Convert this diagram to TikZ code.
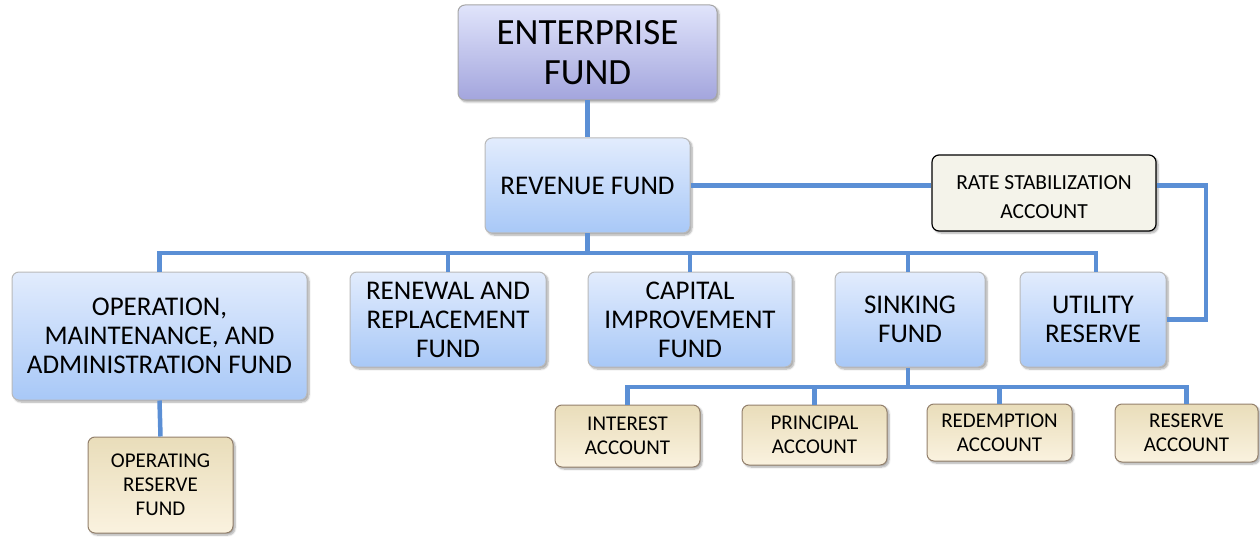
\documentclass[tikz,border=0pt]{standalone}
\usepackage{fontspec}
\setmainfont{Carlito}
\usetikzlibrary{shadows.blur}
\definecolor{conncol}{HTML}{5B8FD5}
\definecolor{enttop}{HTML}{E0E4FB}
\definecolor{entbot}{HTML}{A3A5DD}
\definecolor{bluetop}{HTML}{E2ECFD}
\definecolor{bluebot}{HTML}{A8C8F7}
\definecolor{beigetop}{HTML}{E9DDBA}
\definecolor{beigebot}{HTML}{FAF2DF}
\definecolor{ratefill}{HTML}{F4F3EA}
\tikzset{
  basebox/.style={rounded corners=7pt, align=center, inner sep=2pt,
    blur shadow={shadow xshift=2pt, shadow yshift=-2pt, shadow blur steps=6, shadow opacity=35}},
  entbox/.style={basebox, draw=gray!70, line width=1pt, top color=enttop, bottom color=entbot,
    font=\fontsize{37}{40}\selectfont},
  bluebox/.style={basebox, draw=gray!55, line width=1pt, top color=bluetop, bottom color=bluebot,
    font=\fontsize{27}{29}\selectfont},
  ratebox/.style={basebox, draw=black, line width=1.2pt, fill=ratefill,
    font=\fontsize{21.5}{29}\selectfont},
  beigebox/.style={basebox, draw=gray!70!brown, line width=1pt, top color=beigetop, bottom color=beigebot,
    font=\fontsize{21}{24}\selectfont},
  conn/.style={draw=conncol, line width=4.5pt},
}
\begin{document}
\begin{tikzpicture}[x=1pt,y=-1pt]
\useasboundingbox (0,0) rectangle (1260,537);
\coordinate (bus) at (588,253);
\coordinate (sbus) at (908,387);
\coordinate (rr) at (1206,0);
\node[entbox, minimum width=259pt, minimum height=95pt] (ent) at (587.5,52.5) {ENTERPRISE\\FUND};
\node[bluebox, minimum width=205pt, minimum height=95pt] (rev) at (587.5,185.5) {REVENUE FUND};
\node[ratebox, minimum width=224pt, minimum height=76pt] (rate) at (1044,193) {\rule{0pt}{23pt}RATE STABILIZATION\\ACCOUNT};
\node[bluebox, minimum width=295pt, minimum height=128pt] (oma) at (159.5,336) {OPERATION,\\MAINTENANCE, AND\\ADMINISTRATION FUND};
\node[bluebox, minimum width=196pt, minimum height=95pt] (ren) at (448,319.5) {RENEWAL AND\\REPLACEMENT\\FUND};
\node[bluebox, minimum width=204pt, minimum height=95pt] (cap) at (690,319.5) {CAPITAL\\IMPROVEMENT\\FUND};
\node[bluebox, minimum width=150pt, minimum height=95pt] (sink) at (910,319.5) {SINKING\\FUND};
\node[bluebox, minimum width=146pt, minimum height=95pt] (util) at (1093,319.5) {UTILITY\\RESERVE};
\node[beigebox, minimum width=145pt, minimum height=96pt] (opr) at (160.5,485) {OPERATING\\RESERVE\\FUND};
\node[beigebox, minimum width=145pt, minimum height=62pt] (int) at (627.5,436) {INTEREST\\ACCOUNT};
\node[beigebox, minimum width=145pt, minimum height=60pt] (pri) at (814.5,435) {PRINCIPAL\\ACCOUNT};
\node[beigebox, minimum width=145pt, minimum height=57pt] (red) at (999.5,432.5) {REDEMPTION\\ACCOUNT};
\node[beigebox, minimum width=143pt, minimum height=58pt] (res) at (1186.5,433) {RESERVE\\ACCOUNT};
\draw[conn] (ent.south) -- (rev.north);
\draw[conn] (rev.south) -- (rev.south |- bus);
\draw[conn] (oma.north) |- (bus) -| ([xshift=3pt]util.north);
\draw[conn] (ren.north) -- (ren.north |- bus);
\draw[conn] (cap.north) -- (cap.north |- bus);
\draw[conn] ([xshift=-2pt]sink.north) -- ([xshift=-2pt]sink.north |- bus);
\draw[conn] (rev.east) -- (rev.east -| rate.west);
\draw[conn] (rev.east -| rate.east) -| (rr |- util.east) -- (util.east);
\draw[conn] (oma.south) -- (opr.north);
\draw[conn] ([xshift=-2pt]sink.south) -- (sbus);
\draw[conn] (int.north) |- (sbus) -| (res.north);
\draw[conn] (pri.north) -- (pri.north |- sbus);
\draw[conn] (red.north) -- (red.north |- sbus);
\end{tikzpicture}
\end{document}
